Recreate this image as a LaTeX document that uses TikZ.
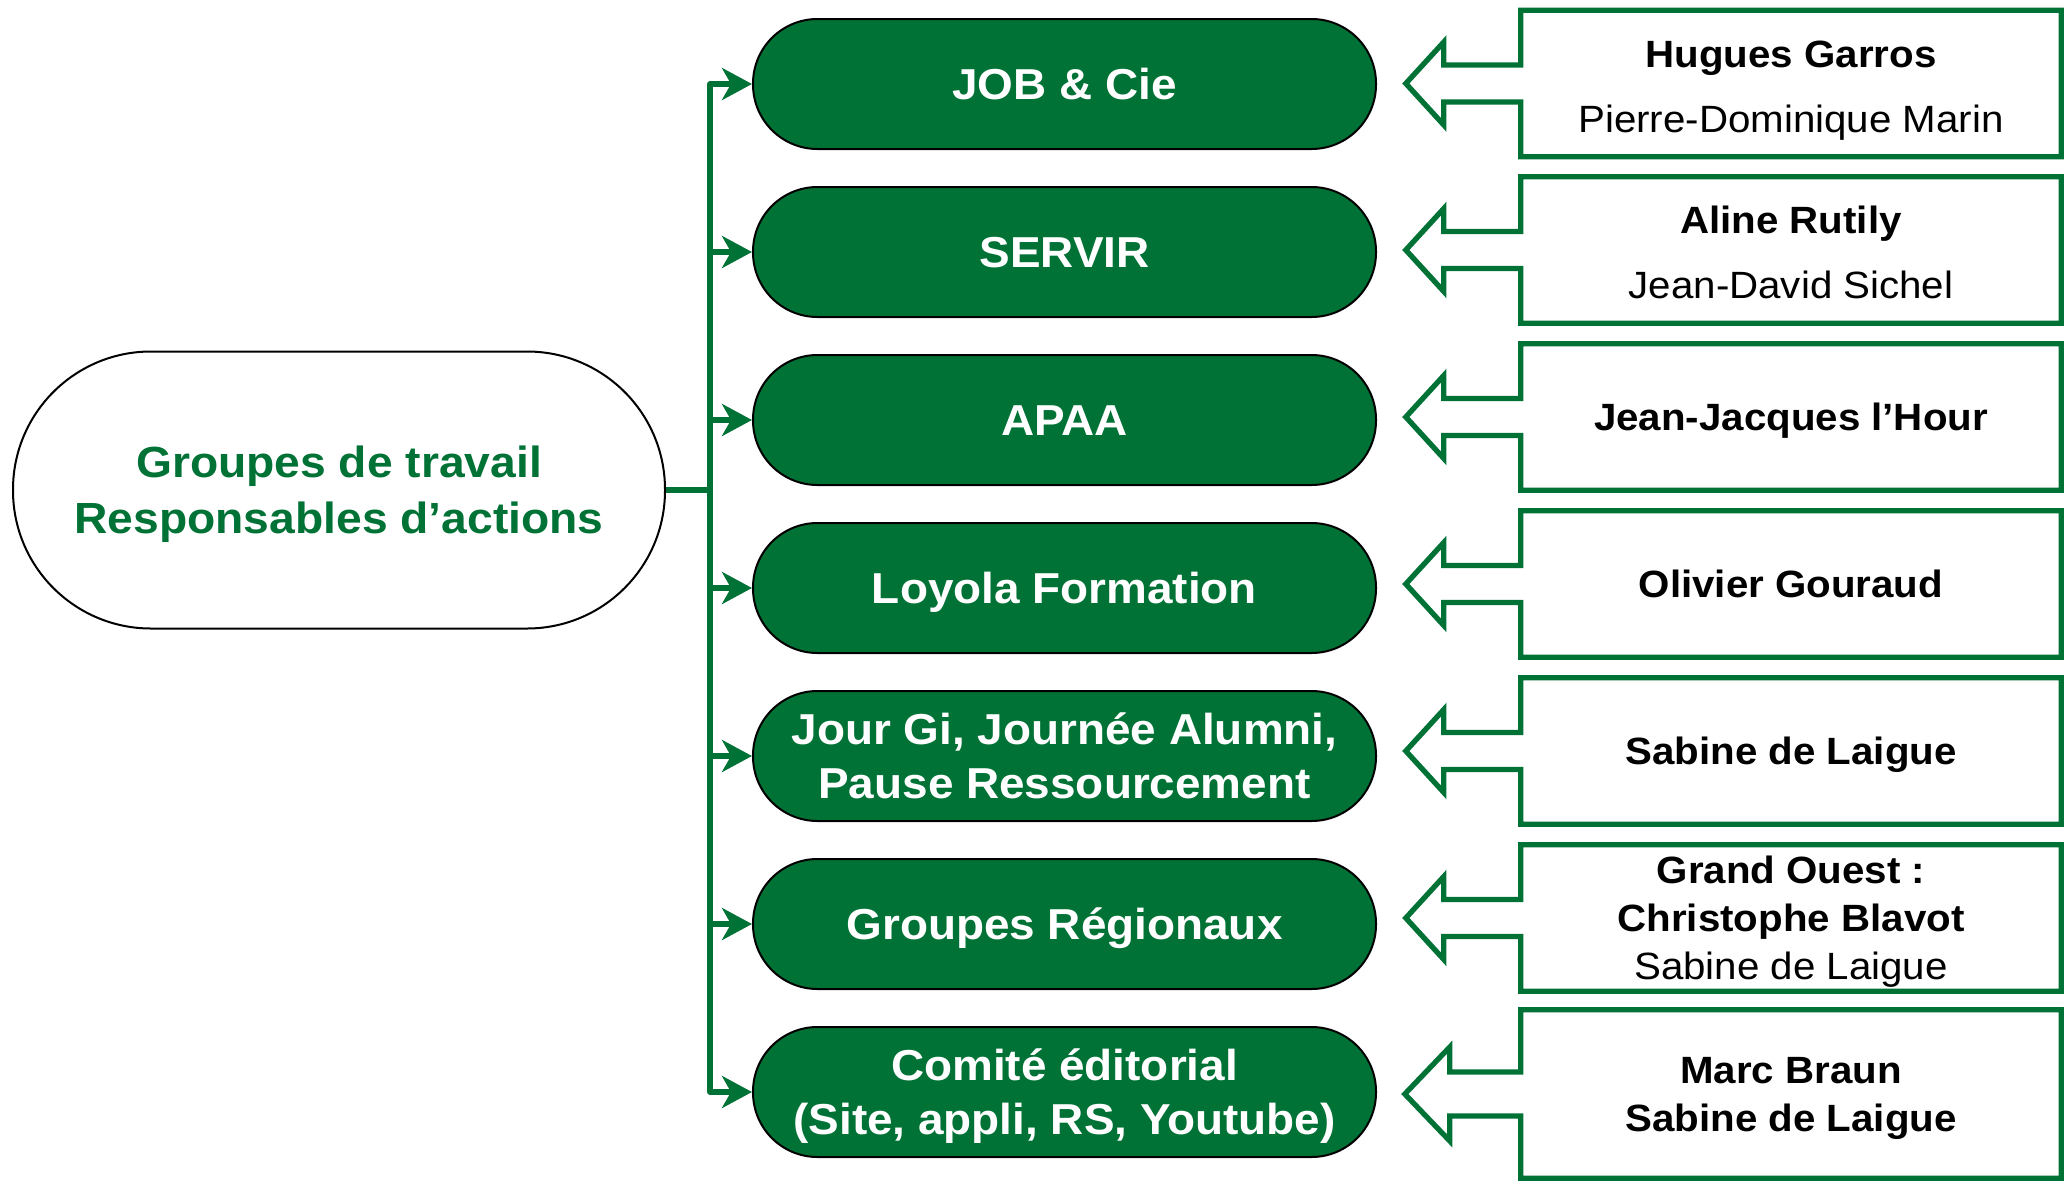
\documentclass[tikz,border=0pt]{standalone}
\usepackage{fontspec}
\setmainfont{Liberation Sans}[FakeStretch=1.06]
\usetikzlibrary{arrows.meta,calc}
\definecolor{grn}{RGB}{0,114,54}
% line strut with the font's ascent/descent, so that text is centred as in the source
\newcommand\ls{\rule[-0.212em]{0pt}{1.117em}}
\newcommand\lstop{\rule[-0.212em]{0pt}{\dimexpr1.117em+6pt\relax}}
\newcommand\coPath[5]{%
  \draw[co] (#1.north west) -- (#1.north east) -- (#1.south east) -- (#1.south west)
    -- ([yshift=-#2pt]#1.west) -- ([xshift=-#4pt,yshift=-#2pt]#1.west)
    -- ([xshift=-#4pt,yshift=-#3pt]#1.west) -- ([xshift=-#5pt]#1.west)
    -- ([xshift=-#4pt,yshift=#3pt]#1.west) -- ([xshift=-#4pt,yshift=#2pt]#1.west)
    -- ([yshift=#2pt]#1.west) -- cycle;}
\begin{document}
\begin{tikzpicture}[x=1pt,y=-1pt,
  mainbox/.style={draw=black,line width=2pt,fill=white,rectangle,rounded corners=138pt,
    minimum width=652pt,minimum height=277pt,inner sep=0pt,align=center,text=grn,
    font=\bfseries\fontsize{43.6}{56}\selectfont},
  grp/.style={draw=black,line width=2pt,fill=grn,rectangle,rounded corners=64.5pt,
    minimum width=623pt,minimum height=130pt,inner sep=0pt,align=center,text=white,
    font=\bfseries\fontsize{43.3}{54}\selectfont},
  cbox/.style={rectangle,minimum width=540pt,minimum height=146pt,inner sep=0pt,
    align=center,text=black,font=\fontsize{38}{48}\selectfont},
  co/.style={draw=grn,line width=5.3pt,line join=miter},
  conn/.style={draw=grn,line width=5.5pt,line join=round},
  tip/.style={-{Stealth[length=30pt,width=32pt,inset=9pt]}}]
\useasboundingbox (0,0) rectangle (2069,1181);

\node[mainbox] (L) at (339,490) {\ls Groupes de travail\\\ls Responsables d’actions};

\node[grp] (g1) at (1064.5,84) {\ls JOB \& Cie};
\node[grp] (g2) at (1064.5,252) {\ls SERVIR};
\node[grp] (g3) at (1064.5,420) {\ls APAA};
\node[grp] (g4) at (1064.5,588) {\ls Loyola Formation};
\node[grp] (g5) at (1064.5,756) {\ls Jour Gi, Journée Alumni,\\\ls Pause Ressourcement};
\node[grp] (g6) at (1064.5,924) {\ls Groupes Régionaux};
\node[grp] (g7) at (1064.5,1092) {\ls Comité éditorial\\\ls (Site, appli, RS, Youtube)};

\coordinate (hub) at (710,490);
\draw[conn] (L.east) -- (hub);
\foreach \i in {1,...,7} {\draw[conn,tip] (hub) |- (g\i.west);}

\node[cbox] (c1) at (1791,83.5) {\lstop{\bfseries Hugues Garros}\\[17pt]\ls Pierre-Dominique Marin};
\node[cbox] (c2) at (1791,250) {\lstop{\bfseries Aline Rutily}\\[17pt]\ls Jean-David Sichel};
\node[cbox] (c3) at (1791,417) {\ls\bfseries Jean-Jacques l’Hour};
\node[cbox] (c4) at (1791,584) {\ls\bfseries Olivier Gouraud};
\node[cbox] (c5) at (1791,751) {\ls\bfseries Sabine de Laigue};
\node[cbox] (c6) at (1791,918) {\ls{\bfseries Grand Ouest :}\\\ls{\bfseries Christophe Blavot}\\\ls Sabine de Laigue};
\node[cbox,minimum height=168pt] (c7) at (1791,1094) {\ls{\bfseries Marc Braun}\\\ls{\bfseries Sabine de Laigue}};

\coPath{c1}{18.5}{41.5}{77}{115}
\coPath{c2}{18.5}{41.5}{77}{115}
\coPath{c3}{18.5}{41.5}{77}{115}
\coPath{c4}{18.5}{41.5}{77}{115}
\coPath{c5}{18.5}{41.5}{77}{115}
\coPath{c6}{18.5}{41.5}{77}{115}
\coPath{c7}{22}{47}{71}{116}
\end{tikzpicture}
\end{document}
